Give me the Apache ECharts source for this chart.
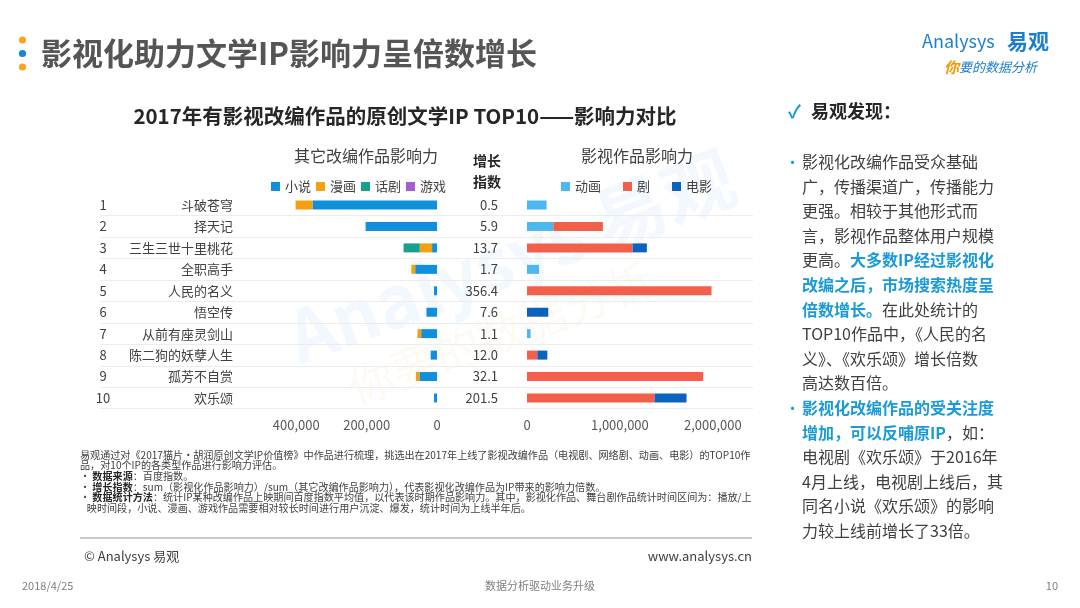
<!DOCTYPE html>
<html>
<head>
<meta charset="utf-8">
<script src="https://cdn.jsdelivr.net/npm/echarts@6/dist/echarts.min.js"></script>
<style>
  html, body { margin: 0; padding: 0; background: #fff; }
  #main { width: 1080px; height: 608px; }
</style>
</head>
<body>
<div id="main"></div>
<script>
// 数据
var ranks = ['1', '2', '3', '4', '5', '6', '7', '8', '9', '10'];
var titles = ['斗破苍穹', '择天记', '三生三世十里桃花', '全职高手', '人民的名义', '悟空传', '从前有座灵剑山', '陈二狗的妖孽人生', '孤芳不自赏', '欢乐颂'];
var growth = ['0.5', '5.9', '13.7', '1.7', '356.4', '7.6', '1.1', '12.0', '32.1', '201.5'];

// 其它改编作品影响力
var novel = [354000, 203000, 14000, 62000, 8500, 30000, 45000, 18000, 50000, 8500];
var comic = [48000, 0, 35000, 11000, 0, 0, 10500, 0, 10000, 0];
var drama = [0, 0, 46000, 0, 0, 0, 0, 0, 0, 0];
var game = [0, 0, 0, 0, 0, 0, 0, 0, 0, 0];

// 影视作品影响力
var anime = [211000, 283000, 0, 129000, 0, 0, 39000, 0, 0, 0];
var tv = [0, 534000, 1136000, 0, 1986000, 0, 0, 111000, 1896000, 1373000];
var film = [0, 0, 154000, 0, 0, 229000, 0, 108000, 0, 344000];

var FONT = "'Noto Sans CJK SC', 'Noto Sans', sans-serif";
var TXT = '#404040';
var BLUE = '#1a9ad8';

function txt(x, y, text, size, opts) {
  opts = opts || {};
  return {
    type: 'text', x: x, y: y, silent: true,
    rotation: opts.rotation || 0,
    style: {
      text: text,
      fontSize: size,
      fontFamily: FONT,
      fontWeight: opts.weight || 'normal',
      fontStyle: opts.style || 'normal',
      fill: opts.color || TXT,
      align: opts.align || 'left', textAlign: opts.align || 'left',
      verticalAlign: 'middle', textVerticalAlign: 'middle',
      opacity: opts.opacity == null ? 1 : opts.opacity,
      rich: opts.rich
    }
  };
}

var graphics = [];
// 标题
graphics.push({ type: 'circle', shape: { cx: 22.5, cy: 40, r: 3.6 }, style: { fill: '#f5a623' } });
graphics.push({ type: 'circle', shape: { cx: 22.5, cy: 53.5, r: 3.6 }, style: { fill: '#1784d8' } });
graphics.push({ type: 'circle', shape: { cx: 22.5, cy: 67, r: 3.6 }, style: { fill: '#f5a623' } });
graphics.push(txt(41, 53, '影视化助力文学IP影响力呈倍数增长', 31, { weight: 'bold', color: '#555555' }));

// logo
graphics.push(txt(922, 41, 'Analysys', 18, { color: '#1a7fd0' }));
graphics.push(txt(1007, 41, '易观', 21, { color: '#1a7fd0', weight: 'bold' }));
graphics.push(txt(944, 67, '{o|你}要的数据分析', 13, {
  color: '#1a7fd0', style: 'italic',
  rich: { o: { fill: '#f39800', fontSize: 15, fontWeight: 'bold', fontStyle: 'italic', fontFamily: FONT } }
}));

// 水印
graphics.push(txt(290, 340, 'Analysys 易观', 72, { color: '#1e8fd6', opacity: 0.06, weight: 'bold', rotation: 0.36 }));
graphics.push(txt(350, 390, '你要的数据分析', 46, { color: '#e0a030', opacity: 0.06, rotation: 0.36 }));

// 图表标题
graphics.push(txt(405, 116, '2017年有影视改编作品的原创文学IP TOP10——影响力对比', 20.5, { weight: 'bold', align: 'center', color: '#262626' }));
graphics.push(txt(366, 156, '其它改编作品影响力', 16, { align: 'center' }));
graphics.push(txt(637, 156, '影视作品影响力', 16, { align: 'center' }));
graphics.push(txt(487, 161, '增长', 14, { align: 'center', weight: 'bold', color: '#262626' }));
graphics.push(txt(487, 182, '指数', 14, { align: 'center', weight: 'bold', color: '#262626' }));

// 右侧说明
graphics.push(txt(788, 111, '✓', 18, { color: BLUE, weight: 'bold' }));
graphics.push(txt(811, 111, '易观发现：', 18, { weight: 'bold', color: '#262626' }));
var notes = [
  '影视化改编作品受众基础',
  '广，传播渠道广，传播能力',
  '更强。相较于其他形式而',
  '言，影视作品整体用户规模',
  '更高。{b|大多数IP经过影视化}',
  '{b|改编之后，市场搜索热度呈}',
  '{b|倍数增长。}在此处统计的',
  'TOP10作品中，《人民的名',
  '义》、《欢乐颂》增长倍数',
  '高达数百倍。',
  '{b|影视化改编作品的受关注度}',
  '{b|增加，可以反哺原IP}，如：',
  '电视剧《欢乐颂》于2016年',
  '4月上线，电视剧上线后，其',
  '同名小说《欢乐颂》的影响',
  '力较上线前增长了33倍。'
];
var richB = { b: { fill: BLUE, fontWeight: 'bold', fontSize: 16, fontFamily: FONT } };
notes.forEach(function (s, i) {
  graphics.push(txt(802, 162 + i * 24.6, s, 16, { rich: richB }));
});
graphics.push(txt(785, 162, '•', 15, { color: BLUE }));
graphics.push(txt(785, 162 + 10 * 24.6, '•', 15, { color: BLUE }));

// 脚注
var foot = [
  '易观通过对《2017猫片·胡润原创文学IP价值榜》中作品进行梳理，挑选出在2017年上线了影视改编作品（电视剧、网络剧、动画、电影）的TOP10作',
  '品，对10个IP的各类型作品进行影响力评估。',
  '• {b|数据来源}：百度指数。',
  '• {b|增长指数}：sum（影视化作品影响力）/sum（其它改编作品影响力），代表影视化改编作品为IP带来的影响力倍数。',
  '• {b|数据统计方法}：统计IP某种改编作品上映期间百度指数平均值，以代表该时期作品影响力。其中，影视化作品、舞台剧作品统计时间区间为：播放/上',
  '   映时间段，小说、漫画、游戏作品需要相对较长时间进行用户沉淀、爆发，统计时间为上线半年后。'
];
var FS = 10.1;
var richF = { b: { fill: '#262626', fontWeight: 'bold', fontSize: FS, fontFamily: FONT } };
foot.forEach(function (s, i) {
  graphics.push(txt(80, 455 + i * 10.6, s, FS, { rich: richF }));
});
graphics.push({ type: 'line', shape: { x1: 80, y1: 538, x2: 752, y2: 538 }, style: { stroke: '#c8c8c8', lineWidth: 2 } });
graphics.push(txt(84, 556, '© Analysys 易观', 13));
graphics.push(txt(752, 556, 'www.analysys.cn', 13, { align: 'right' }));
graphics.push(txt(22, 586, '2018/4/25', 11, { color: '#7f7f7f' }));
graphics.push(txt(540, 586, '数据分析驱动业务升级', 11, { color: '#7f7f7f', align: 'center' }));
graphics.push(txt(1058, 586, '10', 11, { color: '#7f7f7f', align: 'right' }));

var rowTop = 194.3, rowH = 214.4;
var axisText = { color: '#595959', fontSize: 13, fontFamily: FONT };

function bar(name, data, stack, xi, color) {
  return {
    name: name, type: 'bar', stack: stack, data: data,
    xAxisIndex: xi, yAxisIndex: xi, barWidth: 9,
    itemStyle: { color: color }, silent: true
  };
}

var option = {
  animation: false,
  textStyle: { fontFamily: FONT },
  graphic: graphics,
  legend: [
    {
      data: ['小说', '漫画', '话剧', '游戏'], left: 266, top: 175,
      icon: 'rect', itemWidth: 9, itemHeight: 9, itemGap: 5,
      textStyle: { color: TXT, fontSize: 13, fontFamily: FONT }, selectedMode: false
    },
    {
      data: ['动画', '剧', '电影'], left: 556, top: 175,
      icon: 'rect', itemWidth: 9, itemHeight: 9, itemGap: 22,
      textStyle: { color: TXT, fontSize: 13, fontFamily: FONT }, selectedMode: false
    }
  ],
  grid: [
    { left: 240, width: 197, top: rowTop, height: rowH },
    { left: 527, width: 223, top: rowTop, height: rowH },
    { left: 100, width: 653, top: rowTop + rowH / 10, height: rowH * 0.9 }
  ],
  xAxis: [
    {
      gridIndex: 0, type: 'value', inverse: true, min: 0, max: 560000, interval: 200000,
      axisLine: { show: false }, axisTick: { show: false }, splitLine: { show: false },
      axisLabel: Object.assign({ margin: 10, showMaxLabel: false,
        formatter: function (v) { return v % 200000 === 0 ? v.toLocaleString('en-US') : ''; } }, axisText)
    },
    {
      gridIndex: 1, type: 'value', min: 0, max: 2400000, interval: 1000000,
      axisLine: { show: false }, axisTick: { show: false }, splitLine: { show: false },
      axisLabel: Object.assign({ margin: 10, showMaxLabel: false,
        formatter: function (v) { return v % 1000000 === 0 ? v.toLocaleString('en-US') : ''; } }, axisText)
    },
    { gridIndex: 2, type: 'value', show: false }
  ],
  yAxis: [
    {
      gridIndex: 0, type: 'category', inverse: true,
      data: titles.map(function (t, i) { return '{r|' + ranks[i] + '}{n|' + t + '}'; }),
      axisLine: { show: false }, axisTick: { show: false },
      axisLabel: {
        margin: 7, color: TXT, fontSize: 13, fontFamily: FONT,
        rich: {
          r: { width: 16, align: 'center', fontSize: 13, color: TXT, fontFamily: FONT },
          n: { width: 122, align: 'right', fontSize: 13, color: TXT, fontFamily: FONT }
        }
      }
    },
    {
      gridIndex: 1, type: 'category', inverse: true, data: growth,
      axisLine: { show: false }, axisTick: { show: false },
      axisLabel: { margin: 29, color: TXT, fontSize: 13, fontFamily: FONT }
    },
    {
      gridIndex: 2, type: 'value', min: 0, max: 9, interval: 1,
      axisLine: { show: false }, axisTick: { show: false }, axisLabel: { show: false },
      splitLine: { show: true, lineStyle: { color: '#ececec', width: 1 } }
    }
  ],
  series: [
    bar('小说', novel, 'L', 0, '#0f8fdc'),
    bar('漫画', comic, 'L', 0, '#f5a011'),
    bar('话剧', drama, 'L', 0, '#17a08c'),
    bar('游戏', game, 'L', 0, '#a25fd2'),
    bar('动画', anime, 'R', 1, '#4db8ef'),
    bar('剧', tv, 'R', 1, '#f26049'),
    bar('电影', film, 'R', 1, '#0d62bd')
  ]
};

var chart = echarts.init(document.getElementById('main'));
chart.setOption(option);
</script>
</body>
</html>
